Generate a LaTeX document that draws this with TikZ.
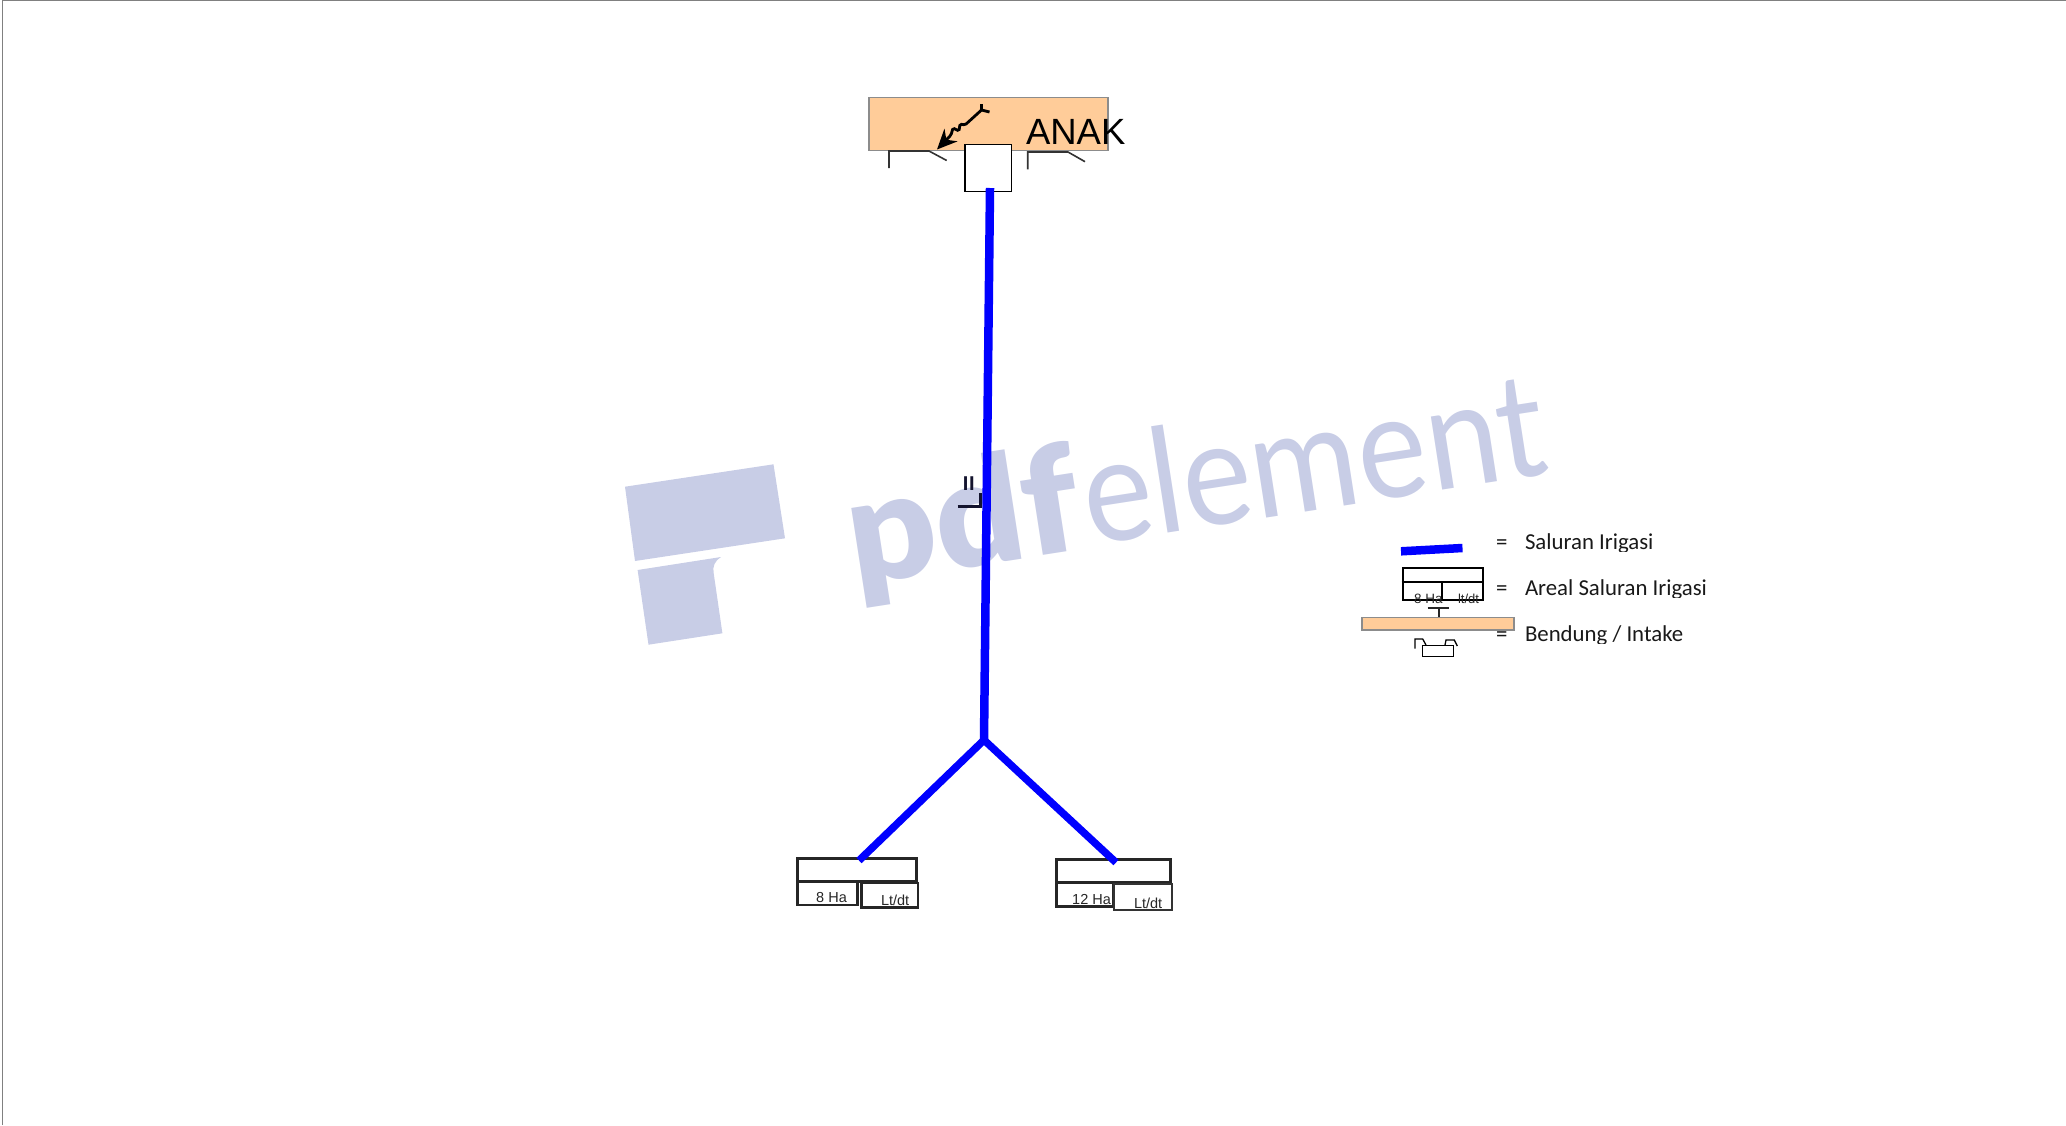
\documentclass[tikz,border=0pt]{standalone}
\usepackage{fontspec}
\setmainfont{Liberation Sans}
\newfontfamily\legfont{Carlito}
\newfontfamily\wmreg{Lato}
\newfontfamily\wmblack{Lato Black}
\usetikzlibrary{arrows.meta}
\definecolor{wm}{HTML}{C8CDE6}
\definecolor{weir}{HTML}{FFCC99}
\definecolor{edgegray}{HTML}{8C8C8C}
\definecolor{darkink}{HTML}{14142E}
\tikzset{
 x=1pt,y=-1pt,
 canal/.style={draw=blue,line width=8.5pt},
 canalb/.style={draw=blue,line width=7.5pt,miter limit=10},
 weirbox/.style={draw=edgegray,fill=weir,line width=1.6pt},
 thin box/.style={draw=black,line width=1.7pt},
 area/.style={draw=black!85,line width=3pt},
 label/.style={anchor=base west,inner sep=0pt,outer sep=0pt},
 small/.style={label,font=\fontsize{14.5}{15}\selectfont,text=black!85},
 leg/.style={label,font=\legfont\fontsize{22.8}{24}\selectfont,text=black!90},
}
\begin{document}
\begin{tikzpicture}
\useasboundingbox (0,0) rectangle (2066,1125);
% page edges
\draw[gray,line width=1.2pt] (2.5,1125) -- (2.5,0.5) -- (2066,0.5);
% watermark
\fill[wm] (625,486.7) -- (773.5,464.3) -- (785,538.3) -- (635,561) -- cycle;
\fill[wm] (637.6,570) -- (721,557) .. controls (714,562) and (713,566) .. (713.5,572) -- (722.4,633.3) -- (648.5,644.7) -- cycle;
\node[label,rotate=8.8,xscale=1.04,text=wm,font=\wmblack\fontsize{148}{150}\selectfont] (wmpdf) at (855,585) {pdf};
\node[label,rotate=8.8,xscale=0.9,text=wm,font=\wmreg\fontsize{146}{148}\selectfont] (wmel) at (1090,545) {element};
% weir
\node[weirbox,minimum width=239pt,minimum height=53pt,inner sep=0pt,anchor=north west] (weir) at (868,96.5) {};
\node[label,font=\fontsize{36.5}{38}\selectfont] (anak) at (1026,144.3) {ANAK};
\node[thin box,fill=white,minimum width=46.5pt,minimum height=47pt,inner sep=0pt,anchor=north west] (intake) at (964.2,143.7) {};
\draw[black!80,line width=1.6pt] (889,168) -- (889,151) -- (929,151) -- (946.7,160.5);
\draw[black!80,line width=1.6pt] (1027.7,169.3) -- (1027.7,152) -- (1068,152) -- (1085,161.7);
% flow arrow
\draw[black,line width=2.8pt] (981.5,104) -- (981.5,110) -- (989.5,112);
\draw[black,line width=2.8pt,rounded corners=1.5pt,-{Stealth[length=20pt,width=18pt]}] (981.5,110) -- (965,125) -- (960,124) -- (959,131) -- (953,128) -- (951,135) -- (937,149.5);
% canal
\coordinate (ctop) at (990,188);
\coordinate (J) at (984,740);
\coordinate (tl) at (859,860.5);
\coordinate (tr) at (1116,862.5);
% II mark
\node[label,anchor=base,text=darkink,font=\bfseries\fontsize{20}{20}\selectfont] (mark) at (968.7,490) {I\kern0.6ptI};
\draw[darkink,line width=3pt] (957.7,506) -- (980,506) -- (980,493.3);
% left area
\node[area,minimum width=119pt,minimum height=22.5pt,inner sep=0pt,anchor=north west] (a1) at (796,857) {};
\node[area,line width=2.6pt,minimum width=60pt,minimum height=24pt,inner sep=0pt,anchor=north west] (a2) at (796,879.6) {};
\node[area,line width=2.6pt,minimum width=56.5pt,minimum height=24.3pt,inner sep=0pt,anchor=north west] (a3) at (860,881.6) {};
\node[small] (t8) at (816.2,902.2) {8 Ha};
\node[small] (lt1) at (881,905.5) {Lt/dt};
% right area
\node[area,minimum width=113.7pt,minimum height=22.4pt,inner sep=0pt,anchor=north west] (b1) at (1055.3,858.3) {};
\node[area,line width=2.6pt,minimum width=56.4pt,minimum height=24pt,inner sep=0pt,anchor=north west] (b2) at (1055.3,881.4) {};
\node[draw=black!80,line width=1.6pt,minimum width=58pt,minimum height=26pt,inner sep=0pt,anchor=north west] (b3) at (1113,883) {};
\node[small] (t12) at (1072.2,904) {12 Ha};
\node[small] (lt2) at (1134,908.5) {Lt/dt};
% canal lines over boxes
\draw[canal] (ctop) -- (J);
\draw[canalb] (tl) -- (J) -- (tr);
% legend
\coordinate (lb1) at (1401,551.3);
\coordinate (lb2) at (1462.5,548);
\draw[canal] (lb1) -- (lb2);
\node[draw=black,line width=2.2pt,minimum width=80pt,minimum height=31.5pt,inner sep=0pt,anchor=north west] (lbox) at (1401.7,567) {};
\draw[black,line width=2.2pt] (lbox.west |- 0,582.3) -- (lbox.east |- 0,582.3);
\draw[black,line width=1.6pt] (1442,582.3) -- (lbox.south -| 1442,0);
\node[small,font=\fontsize{13.5}{14}\selectfont] (lt8) at (1414,603.3) {8 Ha};
\node[small,font=\fontsize{13}{14}\selectfont] (ltlt) at (1458,603) {lt/dt};
\draw[black!85,line width=1.4pt] (1427.7,608) -- (1449,608) (1439,608) -- (1439,617);
\node[weirbox,line width=1.4pt,minimum width=152pt,minimum height=12.3pt,inner sep=0pt,anchor=north west] (lweir) at (1361.4,617) {};
\node[draw=black,line width=1.4pt,minimum width=31pt,minimum height=11pt,inner sep=0pt,anchor=north west] (lint) at (1422,645) {};
\draw[black,line width=1.3pt] (1415,648.7) -- (1415,639) -- (1422.7,639) -- (1426,645);
\draw[black,line width=1.3pt] (1445,645) -- (1446,640) -- (1454.3,640) -- (1457.3,646);
\node[leg] (e1) at (1496,549.3) {=};
\node[leg] (e2) at (1496,595) {=};
\node[leg] (e3) at (1496,641.3) {=};
\begin{scope}
\clip (1520,520) rectangle (1760,551);
\node[leg] (s1) at (1525,549.6) {Saluran Irigasi};
\end{scope}
\begin{scope}
\clip (1520,570) rectangle (1760,597.5);
\node[leg] (s2) at (1525,595.3) {Areal Saluran Irigasi};
\end{scope}
\begin{scope}
\clip (1520,615) rectangle (1760,643.5);
\node[leg] (s3) at (1525,641.5) {Bendung / Intake};
\end{scope}
\end{tikzpicture}
\end{document}
